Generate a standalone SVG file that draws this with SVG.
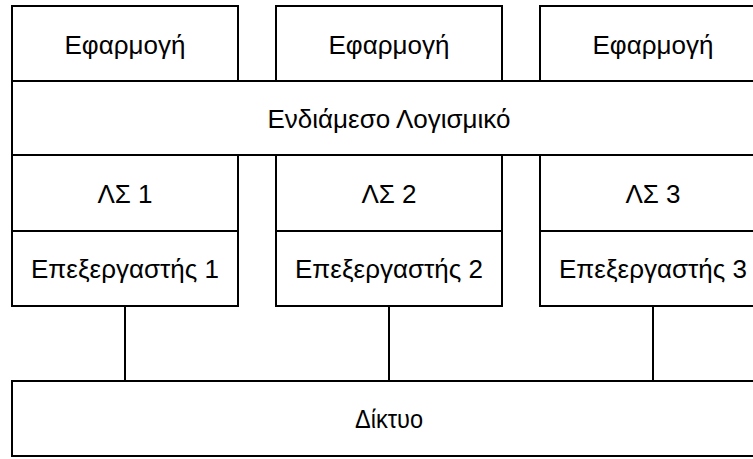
<svg xmlns="http://www.w3.org/2000/svg" width="753" height="459" viewBox="0 0 753 459">
<style>
.b{fill:#fff;stroke:#000;stroke-width:2}
.t{font-family:"Liberation Sans",Arial,sans-serif;font-size:26px;fill:#000;text-anchor:middle}
.c{stroke:#000;stroke-width:2;fill:none}
</style>
<rect width="753" height="459" fill="#fff"/>
<g id="connectors">
<line class="c" x1="125" y1="306" x2="125" y2="381"/>
<line class="c" x1="389" y1="306" x2="389" y2="381"/>
<line class="c" x1="653" y1="306" x2="653" y2="381"/>
</g>
<g id="app1"><rect class="b" x="12" y="6" width="226" height="75"/><text class="t" x="125" y="53.5">Εφαρμογή</text></g>
<g id="app2"><rect class="b" x="276" y="6" width="226" height="75"/><text class="t" x="389" y="53.5">Εφαρμογή</text></g>
<g id="app3"><rect class="b" x="540" y="6" width="226" height="75"/><text class="t" x="653" y="53.5">Εφαρμογή</text></g>
<g id="middleware"><rect class="b" x="12" y="81" width="754" height="74"/><text class="t" x="389" y="128">Ενδιάμεσο Λογισμικό</text></g>
<g id="os1"><rect class="b" x="12" y="155" width="226" height="76"/><text class="t" x="125" y="202.5">ΛΣ 1</text></g>
<g id="os2"><rect class="b" x="276" y="155" width="226" height="76"/><text class="t" x="389" y="202.5">ΛΣ 2</text></g>
<g id="os3"><rect class="b" x="540" y="155" width="226" height="76"/><text class="t" x="653" y="202.5">ΛΣ 3</text></g>
<g id="cpu1"><rect class="b" x="12" y="231" width="226" height="75"/><text class="t" x="125" y="277.5">Επεξεργαστής 1</text></g>
<g id="cpu2"><rect class="b" x="276" y="231" width="226" height="75"/><text class="t" x="389" y="277.5">Επεξεργαστής 2</text></g>
<g id="cpu3"><rect class="b" x="540" y="231" width="226" height="75"/><text class="t" x="653" y="277.5">Επεξεργαστής 3</text></g>
<g id="network"><rect class="b" x="12" y="381" width="754" height="75"/><text class="t" x="389" y="428" textLength="68" lengthAdjust="spacingAndGlyphs">Δίκτυο</text></g>
</svg>
